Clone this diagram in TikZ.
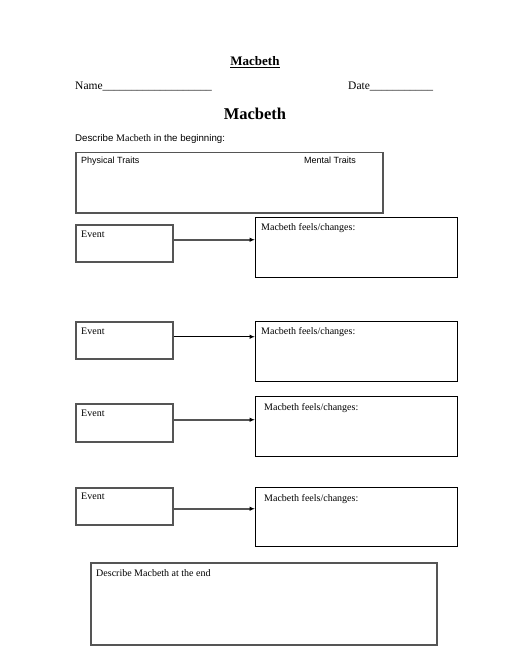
\documentclass[tikz,border=0pt]{standalone}
\usepackage{fontspec}
\setmainfont{Liberation Serif}
\newfontfamily\arialf{Liberation Sans}
\usetikzlibrary{arrows.meta}
\definecolor{boxgray}{RGB}{85,85,85}
\tikzset{
  graybox/.style={draw=boxgray, line width=1.5pt, rectangle, inner sep=0pt, anchor=north west},
  blackbox/.style={draw=black, line width=1.1pt, rectangle, inner sep=0pt, anchor=north west},
  lbl/.style={anchor=base west, inner sep=0pt, font=\fontsize{10}{12}\selectfont},
  slbl/.style={anchor=base west, inner sep=0pt, font=\arialf\fontsize{9}{11}\selectfont},
  conn/.style={line width=1.1pt, -{Latex[length=5.5pt,width=4.5pt,color=black]}},
  gconn/.style={conn, draw=boxgray, line width=1.5pt}
}
\begin{document}
\begin{tikzpicture}[x=1pt,y=-1pt]
\useasboundingbox (0,0) rectangle (510,660);
% header
\node[anchor=base, inner sep=0pt, font=\bfseries\fontsize{13}{15}\selectfont] (t1) at (255,66) {\underline{Macbeth}};
\node[anchor=base west, inner sep=0pt, font=\fontsize{11.5}{14}\selectfont] (name) at (75,90) {Name\_\_\_\_\_\_\_\_\_\_\_\_\_\_\_\_\_\_\_};
\node[anchor=base west, inner sep=0pt, font=\fontsize{11.5}{14}\selectfont] (date) at (348,90) {Date\_\_\_\_\_\_\_\_\_\_\_};
\node[anchor=base, inner sep=0pt, font=\bfseries\fontsize{16.5}{19}\selectfont] (t2) at (255,120) {Macbeth};
\node[anchor=base west, inner sep=0pt, font=\arialf\fontsize{9.7}{11}\selectfont] (desc) at (75,142) {Describe {\rmfamily\fontsize{10}{12}\selectfont Macbeth} in the beginning:};
% traits box
\node[graybox, minimum width=307pt, minimum height=60pt] (traits) at (75,152) {};
\node[slbl] (phys) at (81,164) {Physical Traits};
\node[slbl] (ment) at (304,164) {Mental Traits};
% row 1
\node[graybox, minimum width=97pt, minimum height=37pt] (ev1) at (75,224) {};
\node[lbl] at (81,237) {Event};
\node[blackbox, minimum width=202pt, minimum height=60pt] (fb1) at (255,217) {};
\node[lbl] at (261,230) {Macbeth feels/changes:};
\draw[gconn] ([yshift=3.5pt]ev1.east) -- ([yshift=3.5pt]ev1.east -| fb1.west);
% row 2
\node[graybox, minimum width=97pt, minimum height=37pt] (ev2) at (75,321) {};
\node[lbl] at (81,334) {Event};
\node[blackbox, minimum width=202pt, minimum height=60pt] (fb2) at (255,321) {};
\node[lbl] at (261,334) {Macbeth feels/changes:};
\draw[conn] ([yshift=3.5pt]ev2.east) -- ([yshift=3.5pt]ev2.east -| fb2.west);
% row 3
\node[graybox, minimum width=97pt, minimum height=38pt] (ev3) at (75,403) {};
\node[lbl] at (81,416) {Event};
\node[blackbox, minimum width=202pt, minimum height=60pt] (fb3) at (255,396) {};
\node[lbl] at (264,410) {Macbeth feels/changes:};
\draw[gconn] ([yshift=3pt]ev3.east) -- ([yshift=3pt]ev3.east -| fb3.west);
% row 4
\node[graybox, minimum width=97pt, minimum height=37pt] (ev4) at (75,487) {};
\node[lbl] at (81,499) {Event};
\node[blackbox, minimum width=202pt, minimum height=59pt] (fb4) at (255,487) {};
\node[lbl] at (264,501) {Macbeth feels/changes:};
\draw[gconn] ([yshift=-2.5pt]ev4.east) -- ([yshift=-2.5pt]ev4.east -| fb4.west);
% end box
\node[graybox, minimum width=346pt, minimum height=82pt] (endb) at (90,562) {};
\node[lbl] at (96,576) {Describe Macbeth at the end};
\end{tikzpicture}
\end{document}
